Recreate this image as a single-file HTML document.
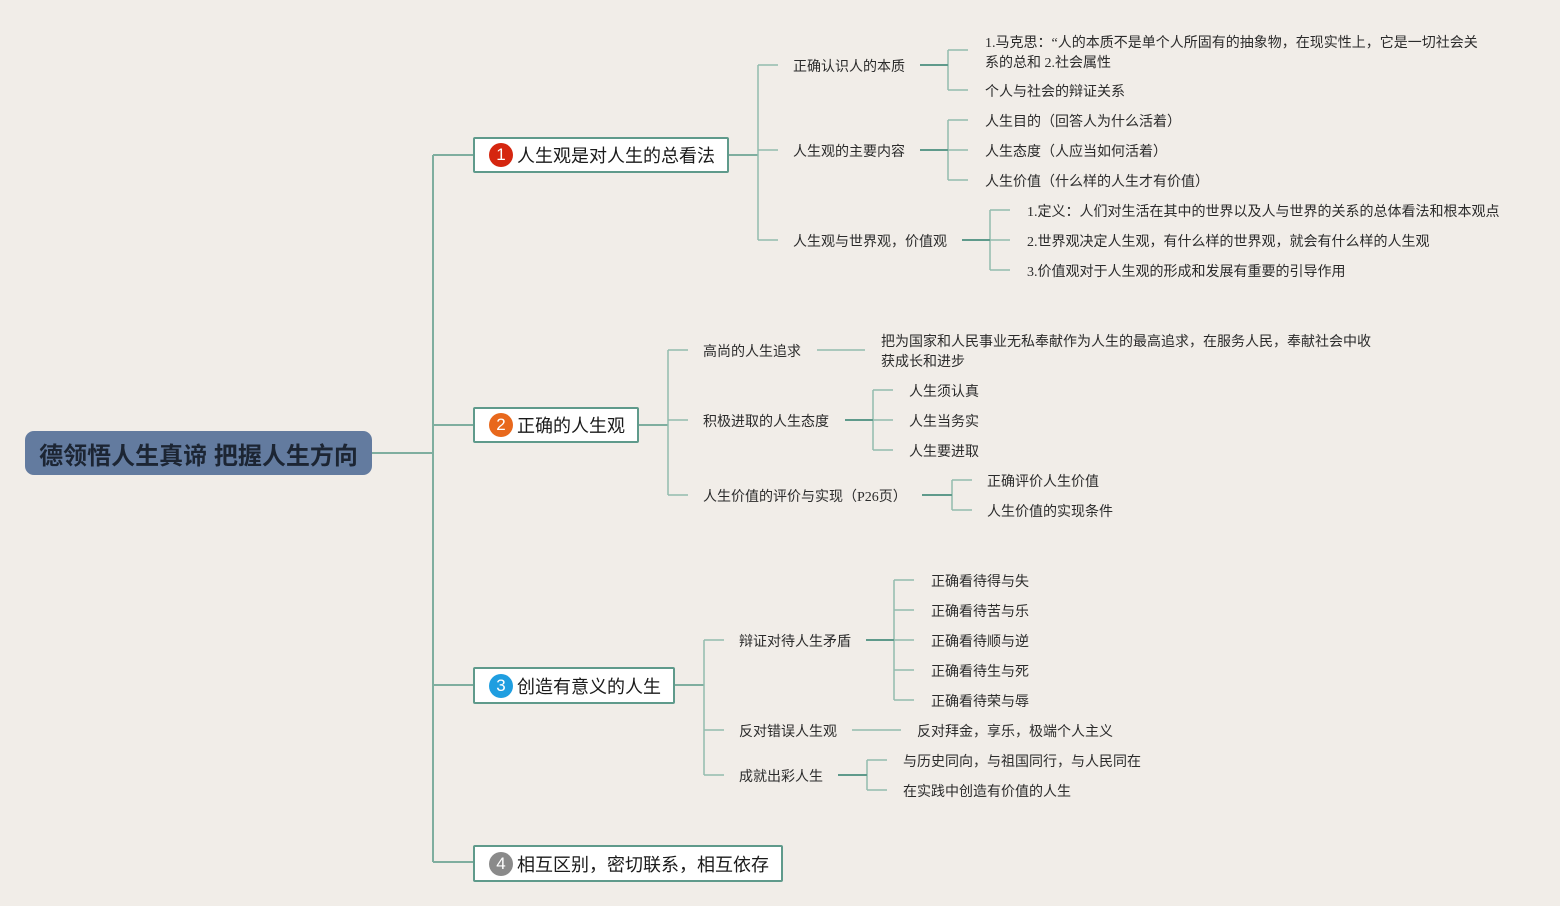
<!DOCTYPE html>
<html><head><meta charset="utf-8">
<style>
html,body{margin:0;padding:0;}
body{width:1560px;height:906px;background:#f1ede8;position:relative;overflow:hidden;font-family:"Liberation Serif","Noto Sans CJK SC",sans-serif;}
.t{position:absolute;font-size:14px;line-height:20px;color:#2b2b2b;white-space:nowrap;margin-top:3px;}
.box{position:absolute;box-sizing:border-box;border:2px solid #5f9a8b;background:#fff;border-radius:2px;font-family:"Liberation Sans","Noto Sans CJK SC",sans-serif;font-size:18px;color:#1a1a1a;display:flex;align-items:center;padding-left:14px;}
.b{display:inline-block;width:24px;height:24px;border-radius:50%;color:#fff;font-size:17px;line-height:24px;text-align:center;margin-right:4px;}
.root{position:absolute;left:25px;top:431px;width:347px;height:44px;background:#637b9f;border-radius:9px;font-family:"Liberation Sans","Noto Sans CJK SC",sans-serif;font-weight:bold;font-size:24px;color:#1c2533;display:flex;align-items:center;justify-content:center;}
</style></head><body>
<svg width="1560" height="906" style="position:absolute;left:0;top:0" fill="none">
<g stroke="#7fae9f" stroke-width="2">
<path d="M372 453H433M433 155V862M433 155H473M433 425H473M433 685H473M433 862H473"/>
<path d="M728 155H758M638 425H668M674 685H704"/>
</g>
<g stroke="#93bcae" stroke-width="1.5">
<path d="M758 65V240M758 65H778M758 150H778M758 240H778"/>
<path d="M948 50V90M948 50H968M948 90H968M948 120V180M948 120H968M948 150H968M948 180H968"/>
<path d="M990 210V270M990 210H1010M990 240H1010M990 270H1010"/>
<path d="M668 350V495M668 350H688M668 420H688M668 495H688"/>
<path d="M817 350H865"/>
<path d="M873 390V450M873 390H893M873 420H893M873 450H893"/>
<path d="M952 480V510M952 480H972M952 510H972"/>
<path d="M704 640V775M704 640H724M704 730H724M704 775H724"/>
<path d="M894 580V700M894 580H914M894 610H914M894 640H914M894 670H914M894 700H914"/>
<path d="M852 730H901"/>
<path d="M867 760V790M867 760H887M867 790H887"/>
</g>
<g stroke="#5f9a8b" stroke-width="2">
<path d="M920 65H948M920 150H948M962 240H990M845 420H873M922 495H952M866 640H894M838 775H867"/>
</g>
</svg>

<div class="root">德领悟人生真谛 把握人生方向</div>
<div class="box" style="left:473px;top:137px;width:256px;height:36px"><span class="b" style="background:#d5260f">1</span>人生观是对人生的总看法</div>
<div class="box" style="left:473px;top:407px;width:166px;height:36px"><span class="b" style="background:#e8681c">2</span>正确的人生观</div>
<div class="box" style="left:473px;top:667px;width:202px;height:37px"><span class="b" style="background:#1f9ee0">3</span>创造有意义的人生</div>
<div class="box" style="left:473px;top:845px;width:310px;height:37px"><span class="b" style="background:#8a8a8a">4</span>相互区别，密切联系，相互依存</div>

<div class="t" style="left:793px;top:55px">正确认识人的本质</div>
<div class="t" style="left:793px;top:140px">人生观的主要内容</div>
<div class="t" style="left:793px;top:230px">人生观与世界观，价值观</div>
<div class="t" style="left:985px;top:31px">1.马克思：“人的本质不是单个人所固有的抽象物，在现实性上，它是一切社会关</div>
<div class="t" style="left:985px;top:51px">系的总和 2.社会属性</div>
<div class="t" style="left:985px;top:80px">个人与社会的辩证关系</div>
<div class="t" style="left:985px;top:110px">人生目的（回答人为什么活着）</div>
<div class="t" style="left:985px;top:140px">人生态度（人应当如何活着）</div>
<div class="t" style="left:985px;top:170px">人生价值（什么样的人生才有价值）</div>
<div class="t" style="left:1027px;top:200px">1.定义：人们对生活在其中的世界以及人与世界的关系的总体看法和根本观点</div>
<div class="t" style="left:1027px;top:230px">2.世界观决定人生观，有什么样的世界观，就会有什么样的人生观</div>
<div class="t" style="left:1027px;top:260px">3.价值观对于人生观的形成和发展有重要的引导作用</div>

<div class="t" style="left:703px;top:340px">高尚的人生追求</div>
<div class="t" style="left:703px;top:410px">积极进取的人生态度</div>
<div class="t" style="left:703px;top:485px">人生价值的评价与实现（P26页）</div>
<div class="t" style="left:881px;top:330px">把为国家和人民事业无私奉献作为人生的最高追求，在服务人民，奉献社会中收</div>
<div class="t" style="left:881px;top:350px">获成长和进步</div>
<div class="t" style="left:909px;top:380px">人生须认真</div>
<div class="t" style="left:909px;top:410px">人生当务实</div>
<div class="t" style="left:909px;top:440px">人生要进取</div>
<div class="t" style="left:987px;top:470px">正确评价人生价值</div>
<div class="t" style="left:987px;top:500px">人生价值的实现条件</div>

<div class="t" style="left:739px;top:630px">辩证对待人生矛盾</div>
<div class="t" style="left:739px;top:720px">反对错误人生观</div>
<div class="t" style="left:739px;top:765px">成就出彩人生</div>
<div class="t" style="left:931px;top:570px">正确看待得与失</div>
<div class="t" style="left:931px;top:600px">正确看待苦与乐</div>
<div class="t" style="left:931px;top:630px">正确看待顺与逆</div>
<div class="t" style="left:931px;top:660px">正确看待生与死</div>
<div class="t" style="left:931px;top:690px">正确看待荣与辱</div>
<div class="t" style="left:917px;top:720px">反对拜金，享乐，极端个人主义</div>
<div class="t" style="left:903px;top:750px">与历史同向，与祖国同行，与人民同在</div>
<div class="t" style="left:903px;top:780px">在实践中创造有价值的人生</div>
</body></html>
